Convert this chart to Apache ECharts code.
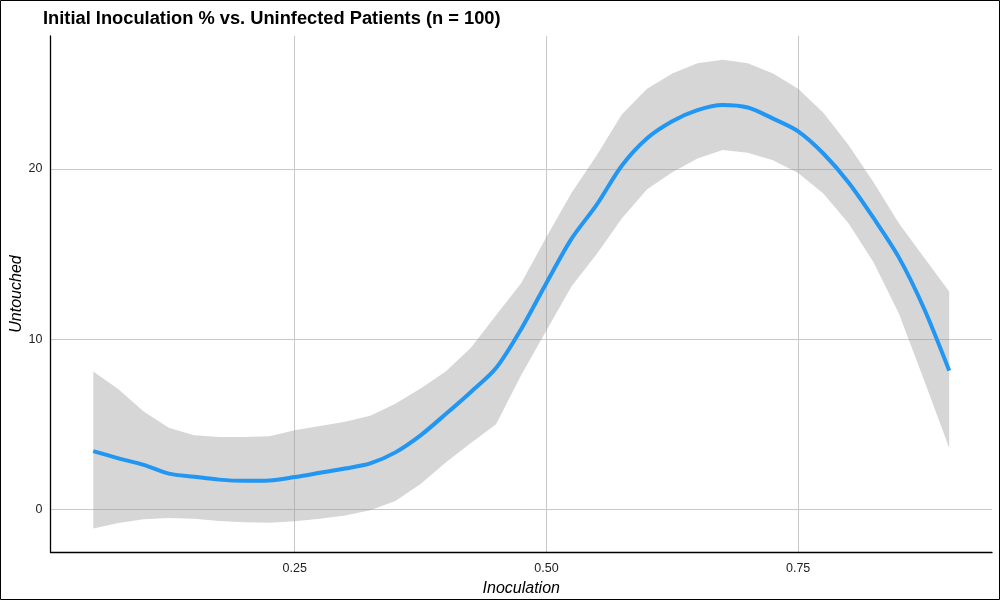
<!DOCTYPE html>
<html>
<head>
<meta charset="utf-8">
<script src="https://cdn.jsdelivr.net/npm/echarts@6/dist/echarts.min.js"></script>
<style>html,body{margin:0;padding:0;background:#fff}#c{width:1000px;height:600px}</style>
</head>
<body>
<div id="c"></div>
<script>
const inoculation = [0.05,0.075,0.1,0.125,0.15,0.175,0.2,0.225,0.25,0.275,0.3,0.325,0.35,0.375,0.4,0.425,0.45,0.475,0.5,0.525,0.55,0.575,0.6,0.625,0.65,0.675,0.7,0.725,0.75,0.775,0.8,0.825,0.85,0.875,0.9];
const fitted = [3.42,3.0,2.62,2.1,1.92,1.75,1.68,1.7,1.9,2.15,2.4,2.7,3.35,4.35,5.6,6.9,8.3,10.6,13.3,15.9,17.9,20.2,21.8,22.8,23.45,23.75,23.6,22.95,22.2,20.9,19.2,17.1,14.8,11.8,8.15];
const upperCI = [8.1,7.05,5.75,4.8,4.35,4.25,4.25,4.3,4.65,4.9,5.15,5.5,6.2,7.1,8.1,9.5,11.4,13.3,16.0,18.6,20.8,23.2,24.7,25.6,26.2,26.4,26.2,25.6,24.7,23.3,21.4,19.2,16.8,14.8,12.8];
const lowerCI = [-1.12,-0.8,-0.58,-0.5,-0.55,-0.68,-0.75,-0.78,-0.7,-0.55,-0.35,-0.05,0.5,1.5,2.75,3.9,5.0,7.9,10.5,13.1,15.0,17.1,18.8,19.8,20.6,21.1,20.95,20.5,19.75,18.55,16.8,14.5,11.5,7.6,3.6];
const xTicks = [0.25,0.5,0.75];
const yTicks = [0,10,20];

const chart = echarts.init(document.getElementById('c'));
const font = 'Liberation Sans, Arial, sans-serif';
const bandPts = inoculation.map((x,i)=>[x, upperCI[i], lowerCI[i]]);

chart.setOption({
  animation:false,
  backgroundColor:'#fff',
  title:{text:'Initial Inoculation % vs. Uninfected Patients (n = 100)', left:43, top:10, padding:0,
    textStyle:{fontFamily:font, fontSize:18.3, fontWeight:'bold', color:'#000'}},
  grid:{left:50.5, right:8, top:36, bottom:48, containLabel:false, outerBoundsMode:'none'},
  xAxis:{type:'value', min:0.0075, max:0.9425,
    name:'Inoculation', nameLocation:'middle', nameGap:29, nameMoveOverlap:false,
    nameTextStyle:{fontFamily:font, fontSize:16, fontStyle:'italic', color:'#000'},
    axisLine:{show:true, onZero:false, lineStyle:{color:'#000', width:1.3}},
    axisTick:{show:false, customValues:xTicks},
    axisLabel:{customValues:xTicks, formatter:v=>v.toFixed(2), fontFamily:font, fontSize:12.5, color:'#222', margin:10},
    splitLine:{show:true, lineStyle:{color:'#c8c8c8', width:1}}},
  yAxis:{type:'value', min:-2.5, max:27.8,
    name:'Untouched', nameLocation:'middle', nameGap:26, nameRotate:90, nameMoveOverlap:false,
    nameTextStyle:{fontFamily:font, fontSize:16, fontStyle:'italic', color:'#000'},
    axisLine:{show:true, onZero:false, lineStyle:{color:'#000', width:1.3}},
    axisTick:{show:false, customValues:yTicks},
    axisLabel:{customValues:yTicks, fontFamily:font, fontSize:12.5, color:'#222', margin:8},
    splitLine:{show:true, lineStyle:{color:'#c8c8c8', width:1}}},
  graphic:[{type:'rect', shape:{x:0.5,y:0.5,width:999,height:599}, style:{fill:'none', stroke:'#000', lineWidth:1}, z:100}],
  series:[
    {type:'custom', z:2, silent:true,
     data:[0],
     renderItem:function(params, api){
       const top = bandPts.map(p=>api.coord([p[0],p[1]]));
       const bot = bandPts.slice().reverse().map(p=>api.coord([p[0],p[2]]));
       return {type:'polygon', shape:{points:top.concat(bot), smooth:0}, style:{fill:'rgba(153,153,153,0.4)'}};
     }},
    {type:'line', z:3, data:inoculation.map((x,i)=>[x,fitted[i]]), showSymbol:false, smooth:0.3,
     lineStyle:{color:'#2196F3', width:4}, itemStyle:{color:'#2196F3'}}
  ]
});
</script>
</body>
</html>
